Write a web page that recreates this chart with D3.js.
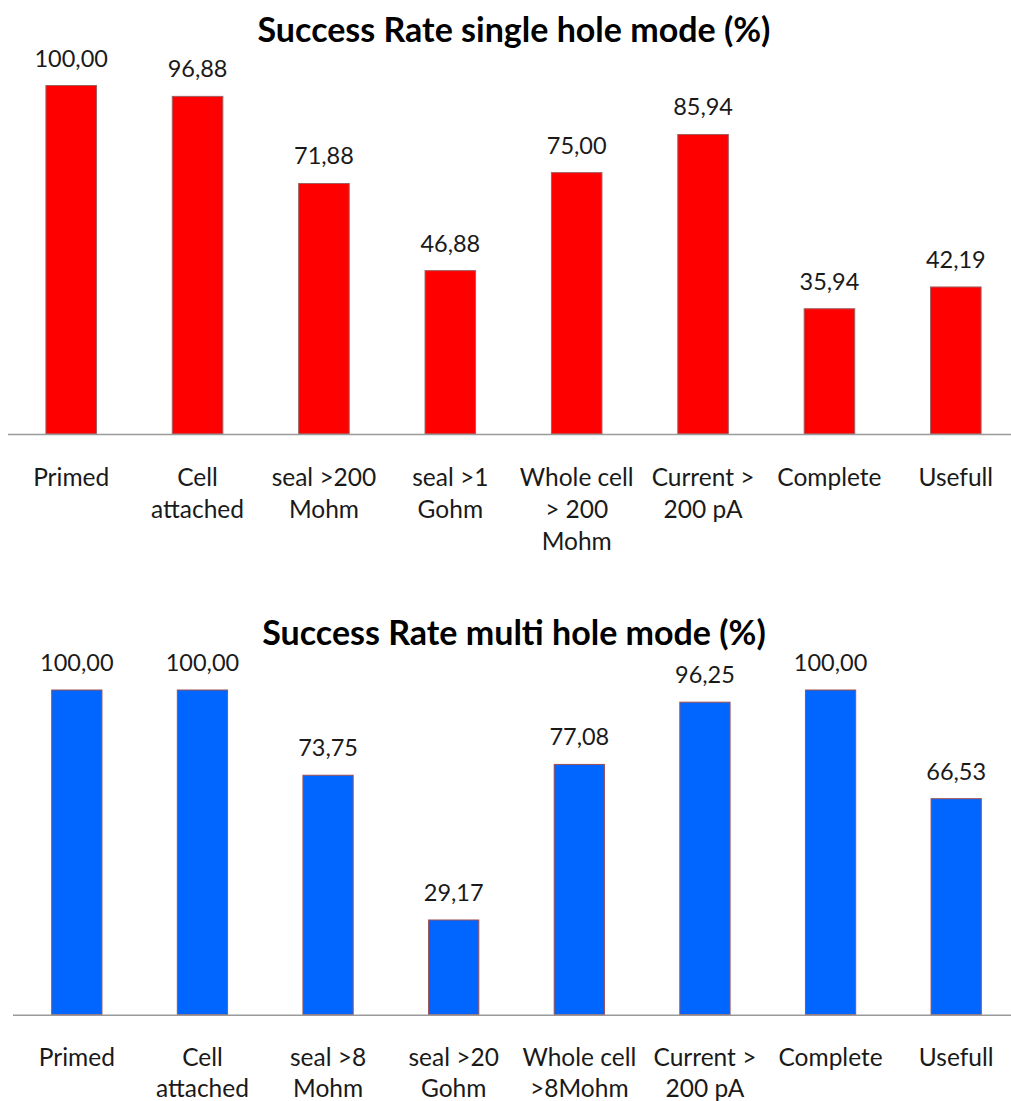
<!DOCTYPE html>
<html>
<head>
<meta charset="utf-8">
<script src="https://cdn.jsdelivr.net/npm/d3@7"></script>
<style>
  html, body { margin: 0; padding: 0; background: #ffffff; }
  svg { display: block; }
  text { font-family: Lato, "Open Sans", sans-serif; fill: #1a1a1a; }
</style>
</head>
<body>
<svg id="chart" width="1011" height="1101"></svg>
<script>
// Single hole mode
const singleCategories = [
  ["Primed"],
  ["Cell", "attached"],
  ["seal >200", "Mohm"],
  ["seal >1", "Gohm"],
  ["Whole cell", "> 200", "Mohm"],
  ["Current >", "200 pA"],
  ["Complete"],
  ["Usefull"]
];
const singleValues = [100.00, 96.88, 71.88, 46.88, 75.00, 85.94, 35.94, 42.19];

// Multi hole mode
const multiCategories = [
  ["Primed"],
  ["Cell", "attached"],
  ["seal >8", "Mohm"],
  ["seal >20", "Gohm"],
  ["Whole cell", ">8Mohm"],
  ["Current >", "200 pA"],
  ["Complete"],
  ["Usefull"]
];
const multiValues = [100.00, 100.00, 73.75, 29.17, 77.08, 96.25, 100.00, 66.53];

const titles = ["Success Rate single hole mode (%)", "Success Rate multi hole mode (%)"];

const svg = d3.select("#chart");
const fmt = v => v.toFixed(2).replace(".", ",");

function drawPanel(cfg) {
  const g = svg.append("g");
  const keys = cfg.categories.map((c, i) => i);

  const x = d3.scaleBand()
    .domain(keys)
    .range([cfg.x0, cfg.x1])
    .paddingInner(0.6)
    .paddingOuter(0.3);

  const y = d3.scaleLinear()
    .domain([0, 100])
    .range([cfg.base, cfg.top]);

  // title
  g.append("text")
    .attr("x", cfg.titleX)
    .attr("y", cfg.titleY)
    .attr("text-anchor", "middle")
    .style("font-weight", "bold")
    .style("font-size", "34px")
    .style("fill", "#000")
    .text(cfg.title);

  // bars
  g.selectAll("rect.bar")
    .data(cfg.values)
    .join("rect")
    .attr("class", "bar")
    .attr("x", (d, i) => x(i))
    .attr("width", x.bandwidth())
    .attr("y", d => y(d))
    .attr("height", d => y(0) - y(d))
    .attr("fill", cfg.fill)
    .attr("stroke", cfg.stroke)
    .attr("stroke-width", 1);

  // value labels
  g.selectAll("text.val")
    .data(cfg.values)
    .join("text")
    .attr("class", "val")
    .attr("x", (d, i) => x(i) + x.bandwidth() / 2)
    .attr("y", d => y(d) - 19)
    .attr("text-anchor", "middle")
    .style("font-size", "23.5px")
    .text(d => fmt(d));

  // baseline axis
  const axis = d3.axisBottom(x).tickSize(0).tickFormat("");
  const ag = g.append("g")
    .attr("transform", `translate(0,${y(0)})`)
    .call(axis);
  ag.select(".domain")
    .attr("d", `M${cfg.axisStart},0.5H1011`)
    .attr("stroke", "#9a9a9a")
    .attr("stroke-width", 1.5);

  // category labels
  const cat = g.selectAll("text.cat")
    .data(cfg.categories)
    .join("text")
    .attr("class", "cat")
    .attr("text-anchor", "middle")
    .style("font-size", "24.5px");
  cat.selectAll("tspan")
    .data((d, i) => d.map(line => ({ line, i })))
    .join("tspan")
    .attr("x", d => x(d.i) + x.bandwidth() / 2)
    .attr("y", (d, j) => y(0) + cfg.labelGap + j * cfg.lineH)
    .text(d => d.line);
}

drawPanel({
  title: titles[0],
  titleX: 514, titleY: 42,
  categories: singleCategories,
  values: singleValues,
  x0: 8, x1: 1019,
  base: 434, top: 85.5,
  axisStart: 8,
  fill: "#ff0000", stroke: "#a06060",
  labelGap: 52, lineH: 32
});

drawPanel({
  title: titles[1],
  titleX: 514, titleY: 645,
  categories: multiCategories,
  values: multiValues,
  x0: 14, x1: 1019,
  base: 1014.7, top: 690,
  axisStart: 13,
  fill: "#0066ff", stroke: "#a05050",
  labelGap: 51, lineH: 31
});
</script>
</body>
</html>
